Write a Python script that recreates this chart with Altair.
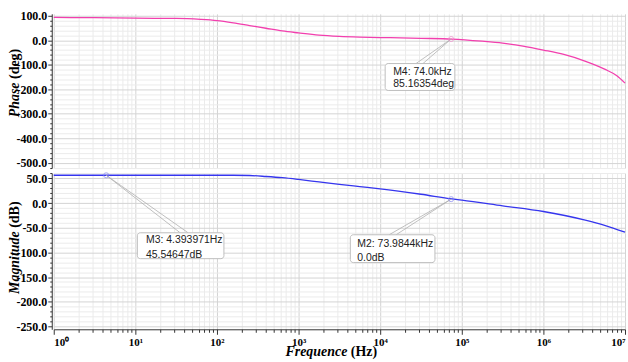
import altair as alt
import pandas as pd

# ---------------- data ----------------
freq_phase = [1, 3.162, 10, 31.62, 63.1, 100, 158.5, 251.2, 398.1, 631, 1000, 1778,
              3162, 5623, 10000, 17783, 31623, 75858, 177828, 316228, 562341, 1e6,
              1.778e6, 3.162e6, 5.623e6, 7.943e6, 1e7]
phase_deg = [93, 92, 90, 89, 85, 80, 71, 60, 49, 38, 30, 21, 16, 13, 11, 10, 8, 5,
             -4, -12, -24, -40, -58, -84, -118, -145, -175]

freq_mag = [1, 10, 100, 158.5, 251.2, 398.1, 631, 1000, 1778, 3162, 5623, 10000,
            31623, 75858, 100000, 316228, 1e6, 3.162e6, 5.623e6, 1e7]
mag_db = [56.5, 56.5, 56.5, 56.5, 56, 54, 51.5, 48, 43, 38, 33.5, 29, 18, 8.5, 6,
          -5.5, -17, -34, -45, -59]

# markers
phase_marker_freq = [74000]
phase_marker_val = [5]
mag_marker_freq = [4.393971, 73984.4]
mag_marker_val = [56.5, 8]

# annotation boxes (data units)
phase_box_x1 = [11508]
phase_box_x2 = [82190]
phase_box_y1 = [-95.2]
phase_box_y2 = [-205]
phase_text = ["M4: 74.0kHz", "85.16354deg"]
phase_text_freq = [14420, 14420]
phase_text_val = [-127.7, -180.6]
phase_lead_x = [74000, 74000]
phase_lead_y = [5, 5]
phase_lead_x2 = [27480, 33430]
phase_lead_y2 = [-95.2, -95.2]

mag_box_x1 = [10.58, 4306]
mag_box_x2 = [121.7, 46880]
mag_box_y1 = [-60.2, -64.2]
mag_box_y2 = [-112.7, -120.7]
mag_text = ["M3: 4.393971Hz", "45.54647dB", "M2: 73.9844kHz", "0.0dB"]
mag_text_freq = [13.5, 13.5, 5243, 5243]
mag_text_val = [-75.7, -104.6, -82.4, -110.6]
mag_lead_x = [4.393971, 4.393971, 73984.4, 73984.4]
mag_lead_y = [56.5, 56.5, 8, 8]
mag_lead_x2 = [35.4, 44.3, 12880, 15680]
mag_lead_y2 = [-60.2, -60.2, -64.2, -64.2]

phase_title = ["Phase", "(deg)"]
mag_title = ["Magnitude", "(dB)"]
x_title = ["Frequence", "(Hz)"]

x_ticks = [m * 10 ** k for k in range(7) for m in range(1, 10)] + [10 ** 7]
phase_ticks = list(range(-520, 101, 20))
mag_ticks = list(range(-250, 61, 10))

# ---------------- styling ----------------
PHASE = "#f23fae"
MAG = "#3535ee"
SERIF = "Liberation Serif"
SANS = "Liberation Sans"
AX = "#333333"
W = 574
H_TOP = 155
H_BOT = 157

DEC = "abs(log(datum.value)/LN10 - round(log(datum.value)/LN10)) < 0.001"
SUP = "['\u2070','\u00b9','\u00b2','\u00b3','\u2074','\u2075','\u2076','\u2077']"

xscale = alt.Scale(type="log", domain=[1, 1e7], nice=False)
grid_x = {"condition": {"test": DEC, "value": "#d4d4d4"}, "value": "#ebebeb"}

top_x_axis = alt.Axis(values=x_ticks, labels=False, ticks=False, domain=False,
                      title=None, grid=True, gridColor=grid_x)
bot_x_axis = alt.Axis(values=x_ticks, title=None, grid=True, gridColor=grid_x,
                      labelExpr=f"({DEC}) ? '10' + {SUP}[round(log(datum.value)/LN10)] : ''",
                      labelFont=SERIF, labelFontSize=11, labelFontWeight="bold",
                      labelColor="black", labelFlush=True, labelOverlap=False,
                      labelPadding=2, domainColor=AX, tickColor=AX,
                      tickSize={"condition": {"test": DEC, "value": 5}, "value": 3})


def y_axis(ticks, major):
    test = f"datum.value % {major} === 0"
    return alt.Axis(values=ticks, title=None, grid=True, offset=2, tickCount=len(ticks),
                    gridColor={"condition": {"test": test, "value": "#d4d4d4"}, "value": "#ebebeb"},
                    labelExpr=f"{test} ? (datum.value < 0 ? '-' : '') + format(abs(datum.value), '.1f') : ''",
                    labelFont=SERIF, labelFontSize=12, labelFontWeight="bold",
                    labelColor="black", labelOverlap=False, labelPadding=1,
                    domainColor=AX, tickColor=AX,
                    tickSize={"condition": {"test": test, "value": 4}, "value": 2})


def panel(freq, vals, color, ydomain, ticks, major, xaxis, height,
          mk_f, mk_v, mk_color,
          bx1, bx2, by1, by2, txt, tf, tv, lx, ly, lx2, ly2, title_parts, title_pos,
          extra=None):
    yscale = alt.Scale(domain=ydomain, nice=False, zero=False)
    yax = y_axis(ticks, major)

    def X(field):
        return alt.X(field, scale=xscale, axis=xaxis)

    def Y(field):
        return alt.Y(field, scale=yscale, axis=yax)

    line = alt.Chart(pd.DataFrame({"f": freq, "v": vals})).mark_line(
        color=color, strokeWidth=1.3, interpolate="monotone").encode(x=X("f:Q"), y=Y("v:Q"))
    leads = alt.Chart(pd.DataFrame({"f": lx, "v": ly, "f2": lx2, "v2": ly2})).mark_rule(
        color="#b0b0b0", strokeWidth=0.8).encode(
        x=X("f:Q"), y=Y("v:Q"), x2="f2:Q", y2="v2:Q")
    boxes = alt.Chart(pd.DataFrame({"f": bx1, "f2": bx2, "v": by1, "v2": by2})).mark_rect(
        fill="white", stroke="#bdbdbd", strokeWidth=1, cornerRadius=3).encode(
        x=X("f:Q"), x2="f2:Q", y=Y("v:Q"), y2="v2:Q")
    texts = alt.Chart(pd.DataFrame({"f": tf, "v": tv, "t": txt})).mark_text(
        align="left", baseline="middle", font=SANS, fontSize=10.5, color="#222222").encode(
        x=X("f:Q"), y=Y("v:Q"), text="t:N")
    pts = alt.Chart(pd.DataFrame({"f": mk_f, "v": mk_v})).mark_point(
        shape="circle", size=26, filled=False, color=mk_color, strokeWidth=1).encode(
        x=X("f:Q"), y=Y("v:Q"))
    t1 = alt.Chart(pd.DataFrame({"t": [title_parts[0]]})).mark_text(
        font=SERIF, fontSize=14, fontWeight="bold", fontStyle="italic", angle=270,
        align="right", baseline="middle", color="black").encode(
        text="t:N", x=alt.value(-39), y=alt.value(title_pos[0]))
    t2 = alt.Chart(pd.DataFrame({"t": [title_parts[1]]})).mark_text(
        font=SERIF, fontSize=14, fontWeight="bold", angle=270,
        align="left", baseline="middle", color="black").encode(
        text="t:N", x=alt.value(-39), y=alt.value(title_pos[1]))
    layers = [line, leads, boxes, texts, pts, t1, t2]
    if extra:
        layers += extra
    return alt.layer(*layers).properties(width=W, height=height)


xt1 = alt.Chart(pd.DataFrame({"t": [x_title[0]]})).mark_text(
    font=SERIF, fontSize=14, fontWeight="bold", fontStyle="italic",
    align="right", baseline="middle", color="black").encode(
    text="t:N", x=alt.value(295), y=alt.value(180))
xt2 = alt.Chart(pd.DataFrame({"t": [x_title[1]]})).mark_text(
    font=SERIF, fontSize=14, fontWeight="bold",
    align="left", baseline="middle", color="black").encode(
    text="t:N", x=alt.value(298.5), y=alt.value(180))

top = panel(freq_phase, phase_deg, PHASE, [-522, 108], phase_ticks, 100, top_x_axis, H_TOP,
            phase_marker_freq, phase_marker_val, "#f08ccc",
            phase_box_x1, phase_box_x2, phase_box_y1, phase_box_y2,
            phase_text, phase_text_freq, phase_text_val,
            phase_lead_x, phase_lead_y, phase_lead_x2, phase_lead_y2,
            phase_title, (69, 65.5))

bottom = panel(freq_mag, mag_db, MAG, [-256, 61], mag_ticks, 50, bot_x_axis, H_BOT,
               mag_marker_freq, mag_marker_val, "#8a8af0",
               mag_box_x1, mag_box_x2, mag_box_y1, mag_box_y2,
               mag_text, mag_text_freq, mag_text_val,
               mag_lead_x, mag_lead_y, mag_lead_x2, mag_lead_y2,
               mag_title, (58.5, 55), extra=[xt1, xt2])

chart = alt.vconcat(top, bottom, spacing=5, bounds="flush").properties(
    padding={"left": 8, "top": 8, "right": 0, "bottom": 3},
    background="white",
).configure_view(stroke=None).configure_axisLeft(
    labelFont=SERIF, labelFontSize=12, labelFontWeight="bold", labelColor="black"
).configure_axisBottom(
    labelFont=SERIF, labelFontWeight="bold", labelColor="black"
)

chart.save("out.html", embed_options={"renderer": "svg", "actions": False})
